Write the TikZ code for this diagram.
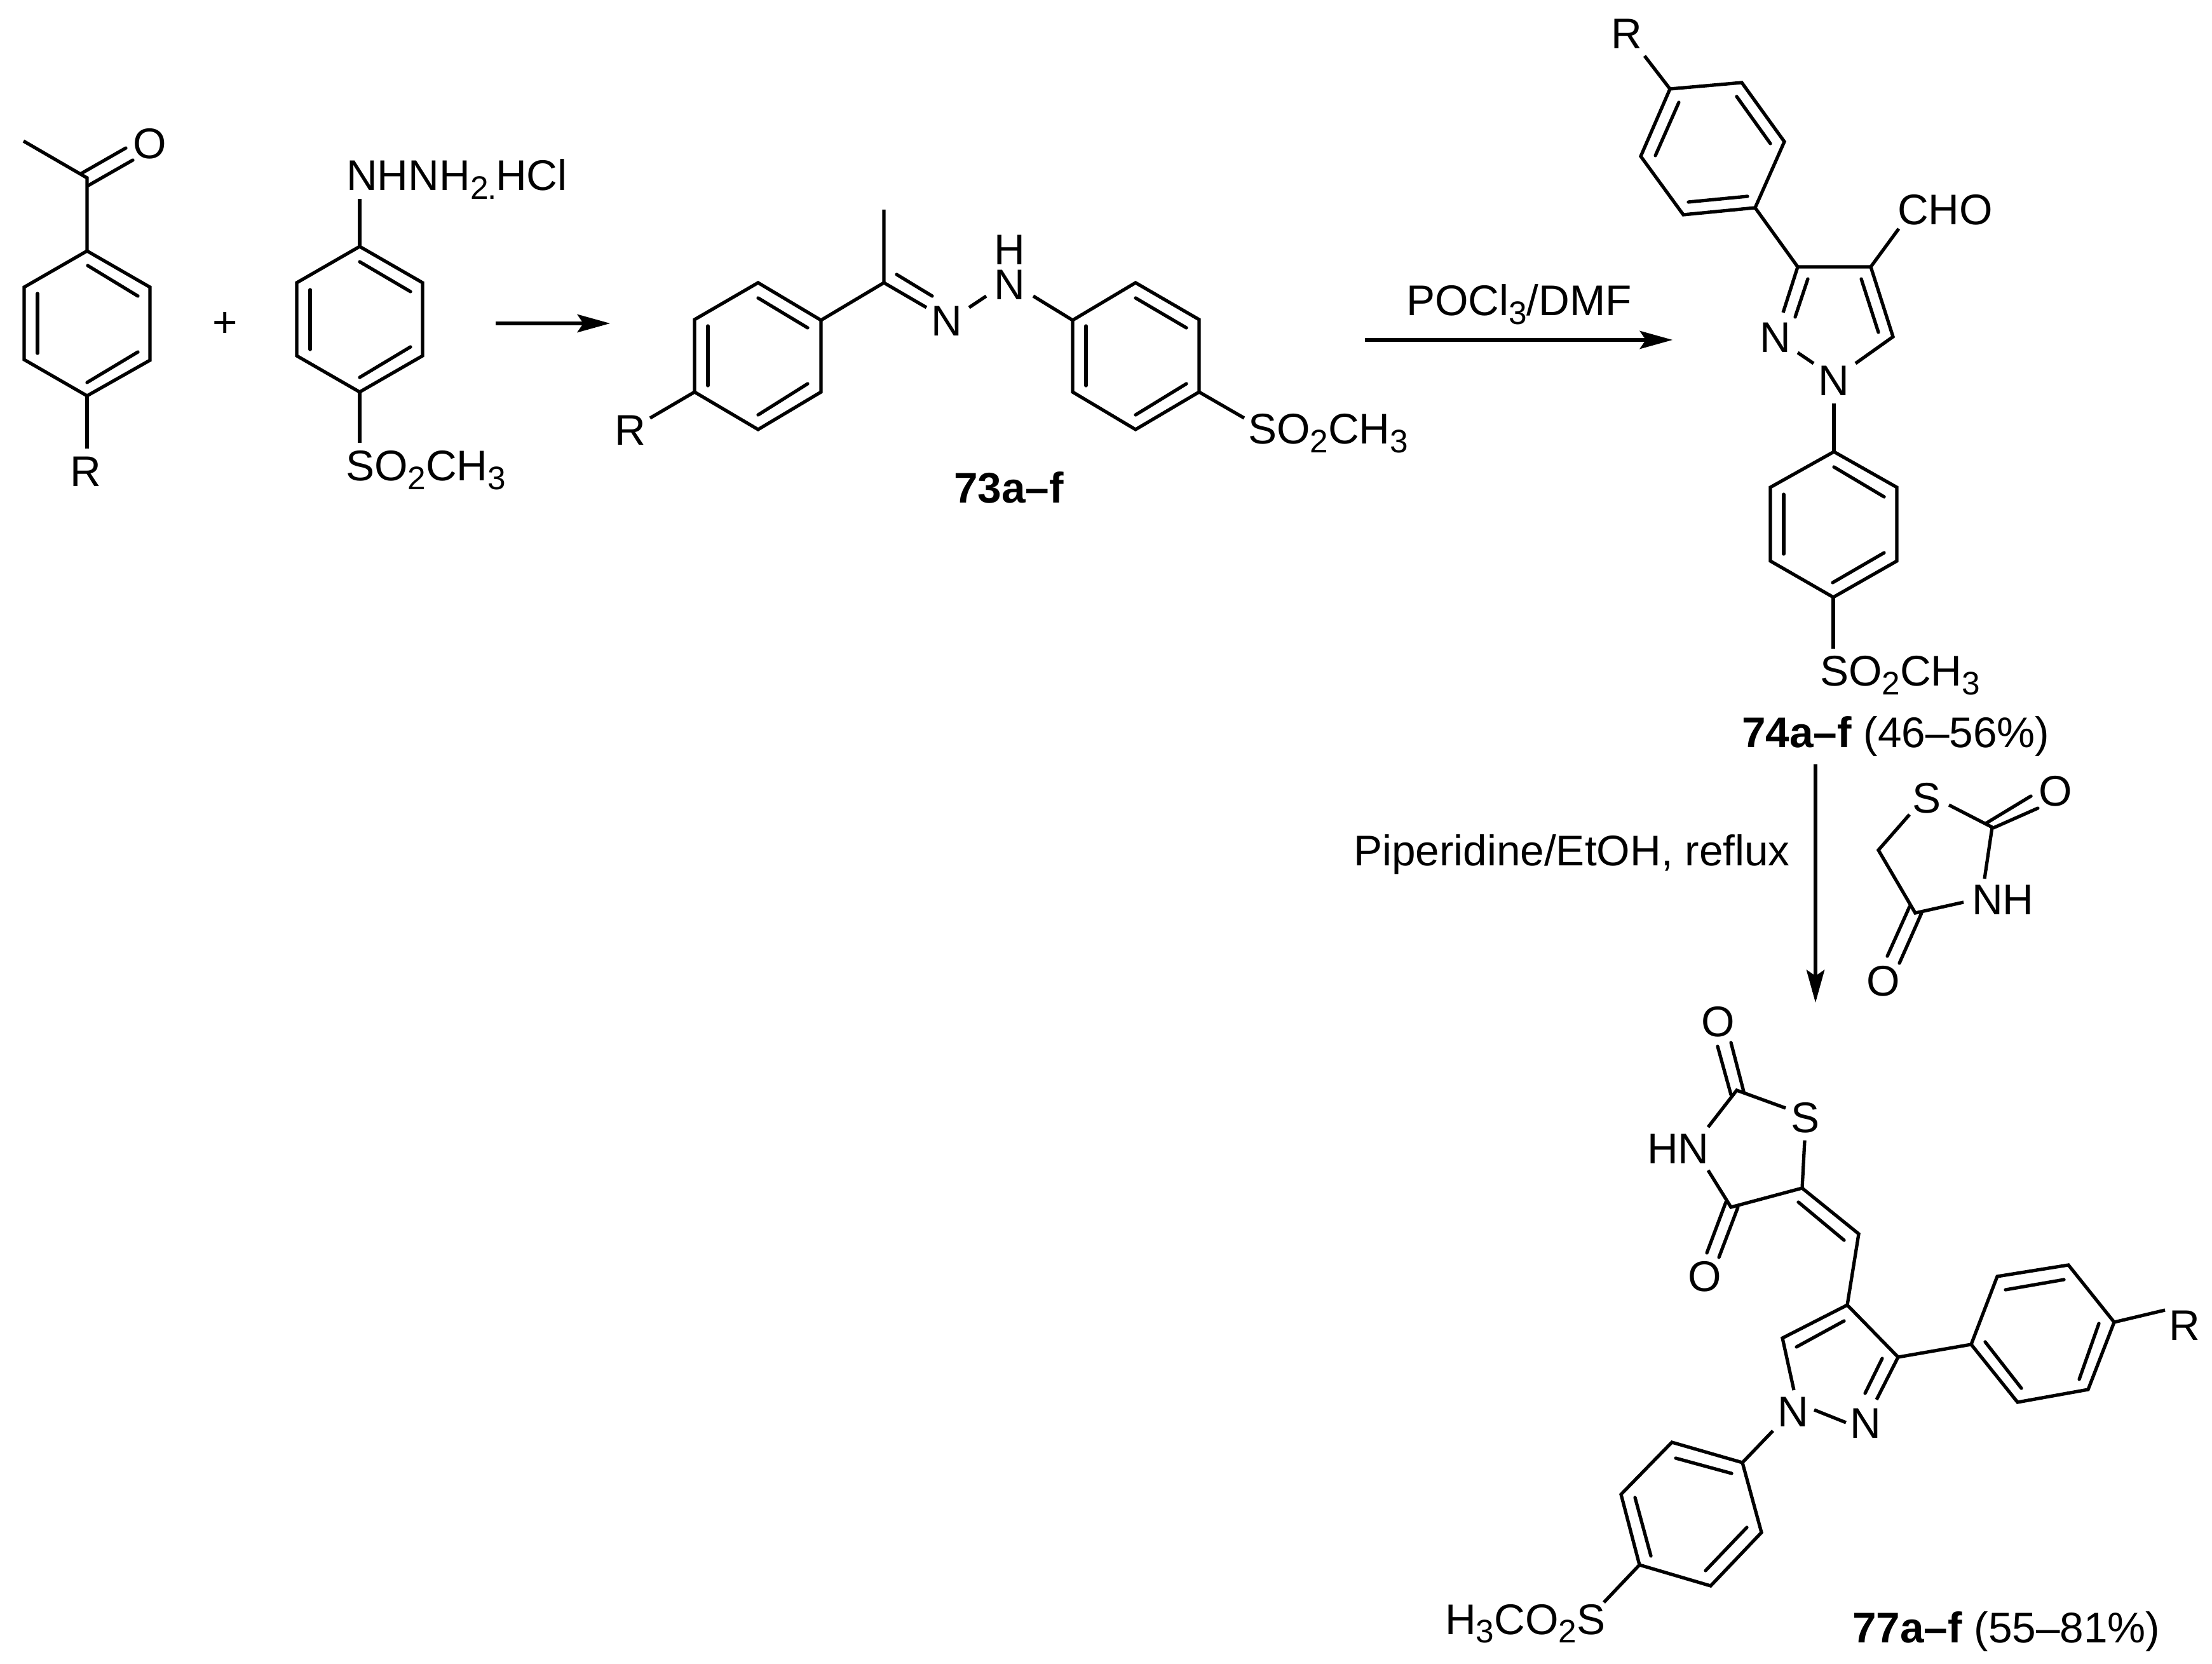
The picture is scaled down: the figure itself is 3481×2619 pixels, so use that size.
\documentclass[tikz,border=0pt]{standalone}
\usepackage{fontspec}
\setmainfont{Liberation Sans}
\usetikzlibrary{arrows.meta}
\newcommand{\sbs}[1]{\raisebox{-0.2em}{\fontsize{14.6}{14.6}\selectfont #1}}
\tikzset{
  bond/.style={line width=1.5pt,line join=miter},
  inner/.style={line width=1.5pt,line cap=round},
  rxn/.style={line width=1.5pt,-{Stealth[length=0.52cm,width=0.29cm,inset=0.1cm,line width=0pt]}},
  atom/.style={inner sep=0pt,outer sep=0pt,font=\fontsize{19.2}{21}\selectfont,anchor=center},
  lab/.style={inner sep=0pt,outer sep=0pt,font=\fontsize{19.2}{21}\selectfont,anchor=base west}
}
\begin{document}
\begin{tikzpicture}[x=0.01cm,y=-0.01cm]
\useasboundingbox (0,0) rectangle (3481,2619);
% --- acetophenone
\foreach \n/\p in {a1/{137,395},a2/{236,452},a3/{236,567},a4/{137,623},a5/{38,566},a6/{38,452},ac/{137,280},ame/{37,222},ar/{137,706},ao1/{198,233},ao1b/{128,273},ao2/{209,252},ao2b/{139,292}}{\coordinate (\n) at (\p);}
\draw[bond] (a1)--(a2)--(a3)--(a4)--(a5)--(a6)--cycle;
\draw[bond] (ame)--(ac)--(a1);
\draw[bond] (a4)--(ar);
\draw[inner] (ao1b)--(ao1); \draw[inner] (ao2b)--(ao2);
\draw[inner] (138,418)--(217,466); \draw[inner] (59,462)--(59,556); \draw[inner] (217,554)--(137,602);
\node[atom] (aO) at (236,226) {O};
\node[atom] (aR) at (135,742) {R};
\node[atom] (plus) at (354,511) {+};
% --- hydrazine
\foreach \n/\p in {b1/{566,388},b2/{665,445},b3/{665,560},b4/{566,617},b5/{467,560},b6/{467,445},bn/{566,313},bs/{566,697}}{\coordinate (\n) at (\p);}
\draw[bond] (b1)--(b2)--(b3)--(b4)--(b5)--(b6)--cycle;
\draw[bond] (b1)--(bn); \draw[bond] (b4)--(bs);
\draw[inner] (566,412)--(646,459); \draw[inner] (488,456)--(488,550); \draw[inner] (646,546)--(566,594);
\node[lab] (bNH) at (545,300) {NHNH\sbs{2}\hspace{-0.02em}\sbs{.}\hspace{-0.02em}HCl};
\node[lab] (bSO) at (544,757) {SO\sbs{2}CH\sbs{3}};
% --- arrow 1
\coordinate (r1s) at (780,509); \coordinate (r1e) at (960,509);
\draw[rxn] (r1s)--(r1e);
% --- 73
\foreach \n/\p in {c1/{1193,445},c2/{1292,504},c3/{1292,617},c4/{1193,676},c5/{1093,617},c6/{1093,503},cr/{1023,658},cc/{1391,445},cme/{1391,330},cn1/{1458,484},cn2a/{1525,484},cn2b/{1552,466},cn3/{1626,466},d1/{1787,445},d2/{1887,503},d3/{1887,617},d4/{1787,676},d5/{1688,617},d6/{1688,504},ds/{1958,658}}{\coordinate (\n) at (\p);}
\draw[bond] (c1)--(c2)--(c3)--(c4)--(c5)--(c6)--cycle;
\draw[bond] (c5)--(cr);
\draw[bond] (c2)--(cc)--(cme);
\draw[bond] (cc)--(cn1);
\draw[inner] (1411,432)--(1467,466);
\draw[bond] (cn2a)--(cn2b);
\draw[bond] (cn3)--(d6);
\draw[bond] (d1)--(d2)--(d3)--(d4)--(d5)--(d6)--cycle;
\draw[bond] (d3)--(ds);
\draw[inner] (1193,469)--(1271,516); \draw[inner] (1114,513)--(1114,607); \draw[inner] (1271,604)--(1193,653);
\draw[inner] (1787,469)--(1867,516); \draw[inner] (1709,513)--(1709,607); \draw[inner] (1867,604)--(1787,653);
\node[atom] (cR) at (992,677) {R};
\node[atom] (cN) at (1490,505) {N};
\node[atom] (cNH) at (1589,448) {N};
\node[atom] (cH) at (1589,393) {H};
\node[lab] (cSO) at (1964,699) {SO\sbs{2}CH\sbs{3}};
\node[lab,font=\fontsize{19.2}{21}\selectfont\bfseries] (c73) at (1501,792) {73a–f};
% --- arrow 2
\coordinate (r2s) at (2148,535); \coordinate (r2e) at (2632,535);
\draw[rxn] (r2s)--(r2e);
\node[lab] (rPOCl) at (2213,497) {POCl\sbs{3}/DMF};
% --- 74
\foreach \n/\p in {e1/{2628,140},e2/{2741,130},e3/{2808,223},e4/{2762,327},e5/{2649,338},e6/{2582,246},er/{2588,88},f3/{2829,420},f4/{2944,420},f5/{2979,530},fn2/{2806,492},fna/{2829,555},fnb/{2854,572},fnc/{2920,572},fcho/{2988,360},fnd/{2886,635},g1/{2886,711},g2/{2985,767},g3/{2985,883},g4/{2885,940},g5/{2786,883},g6/{2786,767},gs/{2885,1021}}{\coordinate (\n) at (\p);}
\draw[bond] (e1)--(e2)--(e3)--(e4)--(e5)--(e6)--cycle;
\draw[bond] (er)--(e1);
\draw[bond] (e4)--(f3);
\draw[bond] (fn2)--(f3)--(f4)--(f5)--(fnc);
\draw[bond] (fna)--(fnb);
\draw[bond] (f4)--(fcho);
\draw[bond] (fnd)--(g1);
\draw[bond] (g1)--(g2)--(g3)--(g4)--(g5)--(g6)--cycle;
\draw[bond] (g4)--(gs);
\draw[inner] (2605,245)--(2642,161); \draw[inner] (2733,152)--(2786,226); \draw[inner] (2750,309)--(2657,318);
\draw[inner] (2845,439)--(2825,499); \draw[inner] (2929,439)--(2956,523);
\draw[inner] (2886,735)--(2965,782); \draw[inner] (2807,778)--(2807,872); \draw[inner] (2965,870)--(2884,917);
\node[atom] (eR) at (2560,53) {R};
\node[atom] (fN2) at (2794,531) {N};
\node[atom] (fN1) at (2886,599) {N};
\node[lab] (fCHO) at (2986,354) {CHO};
\node[lab] (gSO) at (2864,1080) {SO\sbs{2}CH\sbs{3}};
\node[lab] (g74) at (2741,1177) {\textbf{74a–f} (46–56\%)};
% --- arrow 3
\coordinate (r3s) at (2857,1203); \coordinate (r3e) at (2857,1578);
\draw[rxn] (r3s)--(r3e);
\node[lab] (rPip) at (2130,1362) {Piperidine/EtOH, reflux};
% --- thiazolidinedione reagent
\foreach \n/\p in {h2/{3135,1302},hs/{3067,1267},hn/{3123,1383},hn2/{3090,1420},h4/{3014,1437},h5/{2956,1338},hs2/{3005,1282}}{\coordinate (\n) at (\p);}
\draw[bond] (hs)--(h2)--(hn);
\draw[bond] (hn2)--(h4)--(h5)--(hs2);
\draw[inner] (3125,1296)--(3196,1253); \draw[inner] (3137,1303)--(3207,1272);
\draw[inner] (3005,1427)--(2970,1505); \draw[inner] (3024,1437)--(2989,1516);
\node[atom] (hS) at (3032,1256) {S};
\node[atom] (hO1) at (3235,1245) {O};
\node[lab] (hNH) at (3103,1439) {NH};
\node[atom] (hO2) at (2964,1544) {O};
% --- 77
\foreach \n/\p in {i2/{2733,1716},is/{2810,1744},is2/{2840,1795},i5/{2836,1870},i4/{2724,1900},in1/{2688,1842},in2/{2688,1774},ich/{2925,1942},j4/{2907,2054},j5/{2805,2106},j3/{2987,2136},jn1/{2823,2188},jna/{2855,2219},jnb/{2905,2239},jn2/{2953,2203},k1/{3102,2116},k2/{3143,2009},k3/{3255,1991},k4/{3327,2081},k5/{3286,2187},k6/{3175,2207},kr/{3407,2062},jnd/{2790,2252},m1/{2742,2302},m2/{2631,2270},m3/{2551,2352},m4/{2580,2463},m5/{2692,2496},m6/{2772,2412},ms/{2524,2522}}{\coordinate (\n) at (\p);}
\draw[bond] (is)--(i2)--(in2);
\draw[bond] (in1)--(i4)--(i5)--(is2);
\draw[bond] (i5)--(ich)--(j4);
\draw[inner] (2703,1647)--(2724,1723); \draw[inner] (2724,1641)--(2744,1718);
\draw[inner] (2716,1892)--(2686,1972); \draw[inner] (2735,1900)--(2705,1979);
\draw[inner] (2830,1892)--(2902,1952);
\draw[bond] (jn1)--(j5)--(j4)--(j3)--(jn2);
\draw[inner] (2902,2079)--(2827,2120); \draw[inner] (2962,2138)--(2935,2193);
\draw[bond] (jna)--(jnb);
\draw[bond] (j3)--(k1);
\draw[bond] (k1)--(k2)--(k3)--(k4)--(k5)--(k6)--cycle;
\draw[bond] (k4)--(kr);
\draw[inner] (3156,2030)--(3248,2014); \draw[inner] (3303,2083)--(3272,2171); \draw[inner] (3124,2112)--(3181,2185);
\draw[bond] (jnd)--(m1);
\draw[bond] (m1)--(m2)--(m3)--(m4)--(m5)--(m6)--cycle;
\draw[bond] (m4)--(ms);
\draw[inner] (2637,2295)--(2725,2319); \draw[inner] (2573,2357)--(2598,2449); \draw[inner] (2684,2472)--(2749,2404);
\node[atom] (iO1) at (2704,1608) {O};
\node[atom] (iS) at (2841,1759) {S};
\node[lab] (iHN) at (2592,1831) {HN};
\node[atom] (iO2) at (2683,2009) {O};
\node[atom] (jN1) at (2822,2222) {N};
\node[atom] (jN2) at (2936,2240) {N};
\node[atom] (kR) at (3438,2086) {R};
\node[lab] (mSO) at (2274,2572) {H\sbs{3}CO\sbs{2}S};
\node[lab] (m77) at (2915,2585) {\textbf{77a–f} (55–81\%)};
\end{tikzpicture}
\end{document}
